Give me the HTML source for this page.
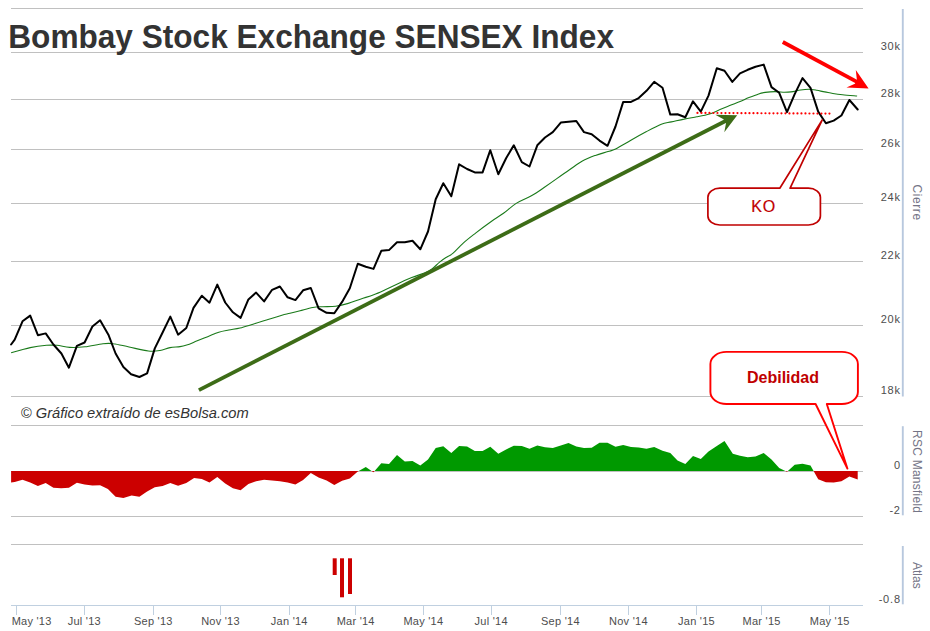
<!DOCTYPE html>
<html><head><meta charset="utf-8"><title>Bombay Stock Exchange SENSEX Index</title>
<style>
html,body{margin:0;padding:0;background:#fff;}
body{width:930px;height:631px;overflow:hidden;font-family:"Liberation Sans",sans-serif;}
svg{display:block;font-family:"Liberation Sans",sans-serif;}
.lab{font-size:11px;fill:#4d4d4d;}
.xl{letter-spacing:0.25px;}
.yl{letter-spacing:0.8px;}
.ttl{font-size:12px;fill:#747486;}
</style></head>
<body>
<svg width="930" height="631" viewBox="0 0 930 631">
<rect x="0" y="0" width="930" height="631" fill="#ffffff"/>
<!-- gridlines -->
<g shape-rendering="crispEdges">
<line x1="11" x2="863" y1="8.3" y2="8.3" stroke="#c0c0c0" stroke-width="1"/>
<line x1="11" x2="863" y1="52.4" y2="52.4" stroke="#c0c0c0" stroke-width="1"/>
<line x1="11" x2="863" y1="99.3" y2="99.3" stroke="#c0c0c0" stroke-width="1"/>
<line x1="11" x2="863" y1="149.2" y2="149.2" stroke="#c0c0c0" stroke-width="1"/>
<line x1="11" x2="863" y1="203.4" y2="203.4" stroke="#c0c0c0" stroke-width="1"/>
<line x1="11" x2="863" y1="261.4" y2="261.4" stroke="#c0c0c0" stroke-width="1"/>
<line x1="11" x2="863" y1="325.3" y2="325.3" stroke="#c0c0c0" stroke-width="1"/>
<line x1="11" x2="863" y1="396.6" y2="396.6" stroke="#c0c0c0" stroke-width="1"/>
<line x1="11" x2="863" y1="425.4" y2="425.4" stroke="#c0c0c0" stroke-width="1"/>
<line x1="11" x2="863" y1="516.4" y2="516.4" stroke="#c0c0c0" stroke-width="1"/>
<line x1="11" x2="863" y1="544.5" y2="544.5" stroke="#c0c0c0" stroke-width="1"/>
<line x1="11" x2="863" y1="471.0" y2="471.0" stroke="#c0c0c0" stroke-width="1"/>
<line x1="11" x2="863" y1="605.5" y2="605.5" stroke="#c0d0e0" stroke-width="1"/>
<line x1="16" x2="16" y1="605.5" y2="615" stroke="#c0d0e0" stroke-width="1"/>
<line x1="84.3" x2="84.3" y1="605.5" y2="615" stroke="#c0d0e0" stroke-width="1"/>
<line x1="153.3" x2="153.3" y1="605.5" y2="615" stroke="#c0d0e0" stroke-width="1"/>
<line x1="220.5" x2="220.5" y1="605.5" y2="615" stroke="#c0d0e0" stroke-width="1"/>
<line x1="289.3" x2="289.3" y1="605.5" y2="615" stroke="#c0d0e0" stroke-width="1"/>
<line x1="355.7" x2="355.7" y1="605.5" y2="615" stroke="#c0d0e0" stroke-width="1"/>
<line x1="423.4" x2="423.4" y1="605.5" y2="615" stroke="#c0d0e0" stroke-width="1"/>
<line x1="491.2" x2="491.2" y1="605.5" y2="615" stroke="#c0d0e0" stroke-width="1"/>
<line x1="560.4" x2="560.4" y1="605.5" y2="615" stroke="#c0d0e0" stroke-width="1"/>
<line x1="628.4" x2="628.4" y1="605.5" y2="615" stroke="#c0d0e0" stroke-width="1"/>
<line x1="696.5" x2="696.5" y1="605.5" y2="615" stroke="#c0d0e0" stroke-width="1"/>
<line x1="761.6" x2="761.6" y1="605.5" y2="615" stroke="#c0d0e0" stroke-width="1"/>
<line x1="829.7" x2="829.7" y1="605.5" y2="615" stroke="#c0d0e0" stroke-width="1"/>
</g>
<!-- axis lines -->
<line x1="902.8" x2="902.8" y1="9" y2="396.4" stroke="#b8c8de" stroke-width="1.9"/>
<line x1="902.8" x2="902.8" y1="426.2" y2="515.3" stroke="#b8c8de" stroke-width="1.9"/>
<line x1="902.8" x2="902.8" y1="546" y2="604.3" stroke="#b8c8de" stroke-width="1.9"/>
<!-- title -->
<text transform="translate(8.3,47.8) scale(1.003,1.025)" x="0" y="0" font-size="31.5" font-weight="bold" fill="#333333" id="title">Bombay Stock Exchange SENSEX Index</text>
<text transform="translate(20.8,418.1) scale(1,1.04)" x="0" y="0" font-size="14.7" font-style="italic" fill="#333333" id="copy">© Gráfico extraído de esBolsa.com</text>
<!-- RSC area -->
<defs>
<clipPath id="above"><rect x="0" y="420" width="930" height="51.0"/></clipPath>
<clipPath id="below"><rect x="0" y="471.0" width="930" height="50"/></clipPath>
</defs>
<polygon points="11.1,471.0 11.1,482.6 14.7,482.0 22.5,479.7 30.2,482.6 37.9,485.9 45.7,483.1 53.4,487.7 61.2,488.3 68.9,487.7 76.9,482.8 84.6,484.6 92.4,485.4 100.1,485.2 107.9,489.0 115.6,496.8 123.4,498.1 131.6,495.5 139.4,496.8 147.1,491.6 154.8,487.2 162.6,485.9 170.3,483.1 178.1,485.7 186.3,483.1 194.1,477.9 201.8,479.0 209.5,482.6 217.3,476.9 225.2,483.5 232.9,488.3 240.6,490.3 248.4,483.9 256.1,481.3 264.1,479.7 272.1,480.5 279.9,481.3 287.6,482.6 295.4,484.4 303.1,480.0 310.8,473.0 318.6,477.4 326.6,480.5 334.3,484.9 342.1,480.8 349.8,478.5 357.8,471.5 365.8,467.1 373.5,472.3 381.3,463.2 389.0,464.0 397.0,455.0 404.8,461.4 412.5,460.9 420.3,465.5 428.0,459.4 435.7,448.0 443.3,446.2 451.3,453.0 459.1,445.9 467.1,446.5 474.8,451.1 482.6,451.1 490.3,446.7 498.3,453.7 506.1,449.5 513.8,445.7 521.8,445.9 529.5,448.8 537.3,445.4 545.0,447.2 552.8,448.0 560.8,445.4 568.5,443.1 576.3,446.5 584.0,448.0 591.7,447.7 599.5,442.8 607.5,442.8 615.5,446.7 623.2,444.9 631.0,447.0 638.7,447.5 646.5,448.8 654.2,447.0 662.5,450.8 670.3,452.9 677.5,460.6 685.3,464.0 693.0,456.0 700.8,459.1 708.5,451.6 716.8,445.9 724.5,441.0 732.8,453.7 740.0,455.7 747.7,457.3 755.5,456.5 763.7,452.9 771.5,459.6 779.2,468.1 787.0,471.8 794.7,464.8 802.5,463.7 810.5,465.5 818.2,479.2 825.9,482.3 833.7,482.6 841.4,481.3 849.4,476.6 857.7,479.5 857.7,471.0" fill="#009900" clip-path="url(#above)"/>
<polygon points="11.1,471.0 11.1,482.6 14.7,482.0 22.5,479.7 30.2,482.6 37.9,485.9 45.7,483.1 53.4,487.7 61.2,488.3 68.9,487.7 76.9,482.8 84.6,484.6 92.4,485.4 100.1,485.2 107.9,489.0 115.6,496.8 123.4,498.1 131.6,495.5 139.4,496.8 147.1,491.6 154.8,487.2 162.6,485.9 170.3,483.1 178.1,485.7 186.3,483.1 194.1,477.9 201.8,479.0 209.5,482.6 217.3,476.9 225.2,483.5 232.9,488.3 240.6,490.3 248.4,483.9 256.1,481.3 264.1,479.7 272.1,480.5 279.9,481.3 287.6,482.6 295.4,484.4 303.1,480.0 310.8,473.0 318.6,477.4 326.6,480.5 334.3,484.9 342.1,480.8 349.8,478.5 357.8,471.5 365.8,467.1 373.5,472.3 381.3,463.2 389.0,464.0 397.0,455.0 404.8,461.4 412.5,460.9 420.3,465.5 428.0,459.4 435.7,448.0 443.3,446.2 451.3,453.0 459.1,445.9 467.1,446.5 474.8,451.1 482.6,451.1 490.3,446.7 498.3,453.7 506.1,449.5 513.8,445.7 521.8,445.9 529.5,448.8 537.3,445.4 545.0,447.2 552.8,448.0 560.8,445.4 568.5,443.1 576.3,446.5 584.0,448.0 591.7,447.7 599.5,442.8 607.5,442.8 615.5,446.7 623.2,444.9 631.0,447.0 638.7,447.5 646.5,448.8 654.2,447.0 662.5,450.8 670.3,452.9 677.5,460.6 685.3,464.0 693.0,456.0 700.8,459.1 708.5,451.6 716.8,445.9 724.5,441.0 732.8,453.7 740.0,455.7 747.7,457.3 755.5,456.5 763.7,452.9 771.5,459.6 779.2,468.1 787.0,471.8 794.7,464.8 802.5,463.7 810.5,465.5 818.2,479.2 825.9,482.3 833.7,482.6 841.4,481.3 849.4,476.6 857.7,479.5 857.7,471.0" fill="#cc0000" clip-path="url(#below)"/>
<!-- Atlas bars -->
<rect x="332.7" y="558.3" width="4" height="16.7" fill="#cc0000"/>
<rect x="340" y="558.3" width="4" height="39" fill="#cc0000"/>
<rect x="348" y="558.3" width="4" height="35.7" fill="#cc0000"/>
<!-- moving average -->
<path d="M11.1,352.8 C14.3,351.9 24.3,348.9 30.2,347.6 C36.1,346.4 42.1,345.7 46.5,345.3 C50.9,344.9 52.9,345.0 56.8,345.3 C60.7,345.6 65.0,347.1 69.7,347.4 C74.4,347.6 79.5,347.4 85.0,346.8 C90.5,346.2 98.2,344.2 103.0,343.7 C107.8,343.2 109.2,343.1 113.5,343.7 C117.8,344.2 123.2,345.8 129.0,347.0 C134.8,348.2 143.2,350.4 148.4,351.0 C153.6,351.6 156.4,351.1 160.0,350.5 C163.6,349.9 166.7,348.2 170.0,347.6 C173.3,347.0 177.2,347.0 180.0,346.6 C182.8,346.2 183.9,345.9 186.7,345.0 C189.5,344.1 193.1,342.5 196.6,341.1 C200.1,339.7 204.0,338.2 207.7,336.7 C211.4,335.2 215.3,333.3 218.8,332.2 C222.3,331.1 225.3,330.7 228.8,330.0 C232.3,329.3 236.0,329.0 240.0,328.0 C244.0,327.0 248.6,325.5 253.0,324.2 C257.4,322.9 261.7,321.5 266.5,320.0 C271.3,318.5 278.0,316.4 281.9,315.3 C285.8,314.2 287.0,314.1 290.0,313.3 C293.0,312.6 296.3,311.8 300.1,310.8 C303.9,309.8 309.0,308.2 312.8,307.5 C316.6,306.8 319.2,306.9 323.0,306.7 C326.8,306.5 331.4,306.8 335.6,306.2 C339.8,305.6 344.1,304.6 348.3,303.4 C352.5,302.2 356.8,300.3 361.0,298.9 C365.2,297.5 369.5,296.4 373.7,294.8 C377.9,293.2 382.1,291.2 386.3,289.3 C390.5,287.4 394.8,285.1 399.0,283.2 C403.2,281.2 407.5,279.3 411.7,277.6 C415.9,275.9 421.0,274.4 424.4,273.0 C427.8,271.6 429.5,270.8 432.0,269.0 C434.5,267.2 437.3,264.0 439.6,262.1 C441.9,260.2 443.8,258.9 446.0,257.5 C448.2,256.1 450.0,255.8 452.8,253.4 C455.6,251.0 459.2,246.7 463.0,243.3 C466.8,239.9 471.0,236.7 475.6,233.1 C480.2,229.5 486.2,225.0 490.9,221.7 C495.5,218.4 499.3,216.4 503.5,213.3 C507.7,210.2 511.6,206.3 516.2,203.4 C520.9,200.5 526.8,198.5 531.4,195.8 C536.0,193.2 539.9,190.4 544.1,187.5 C548.3,184.6 552.6,181.6 556.8,178.6 C561.0,175.6 565.2,172.6 569.5,169.7 C573.8,166.8 578.1,163.4 582.4,161.0 C586.7,158.6 591.1,157.0 595.4,155.4 C599.7,153.8 604.6,152.7 608.0,151.6 C611.4,150.5 611.8,150.9 615.6,149.0 C619.4,147.1 625.8,143.1 630.9,140.2 C636.0,137.3 641.0,134.5 646.1,131.8 C651.2,129.1 657.1,125.9 661.3,124.2 C665.5,122.5 667.6,122.8 671.4,121.9 C675.2,121.1 679.9,119.9 684.1,119.1 C688.3,118.2 692.6,117.6 696.8,116.8 C701.0,116.0 705.6,115.2 709.5,114.0 C713.4,112.8 716.6,111.0 720.0,109.6 C723.4,108.2 726.5,106.9 729.7,105.6 C732.9,104.3 736.2,103.1 739.4,101.8 C742.6,100.5 745.8,98.9 749.0,97.6 C752.2,96.3 756.0,94.8 758.7,93.9 C761.4,93.0 762.5,92.8 765.2,92.4 C767.9,92.0 771.6,91.6 774.8,91.6 C778.0,91.6 781.8,92.2 784.5,92.3 C787.2,92.3 788.3,92.3 791.0,91.9 C793.7,91.5 797.6,90.5 800.6,90.0 C803.6,89.5 806.0,89.2 808.7,89.2 C811.4,89.2 814.1,89.8 816.8,90.3 C819.5,90.8 822.1,91.4 824.8,91.9 C827.5,92.4 829.9,93.0 832.9,93.5 C835.9,94.0 838.6,94.4 842.6,94.8 C846.6,95.2 854.7,95.8 857.1,96.0" fill="none" stroke="#1a7a1a" stroke-width="1.1" stroke-linejoin="round"/>
<!-- price -->
<polyline points="11.1,344.5 14.7,339.6 22.5,321.3 30.2,315.6 37.9,335.2 45.7,333.4 53.4,344.5 61.4,353.5 68.9,367.7 76.9,345.8 84.6,342.5 92.4,326.5 100.1,320.3 108.4,334.7 115.6,353.5 123.4,367.0 131.1,374.2 139.4,377.0 147.1,373.4 154.8,348.4 162.6,332.5 170.3,316.6 178.1,334.7 186.3,328.0 193.5,307.9 201.8,295.7 209.5,302.7 217.3,284.6 225.2,302.5 232.9,312.3 240.6,317.9 248.4,299.4 256.1,292.6 264.1,301.4 272.1,289.8 279.9,286.5 287.6,297.3 295.4,300.1 303.1,290.3 310.8,288.0 318.6,308.4 326.6,312.8 334.3,313.3 342.1,301.9 349.8,288.3 357.8,263.7 365.8,266.8 373.5,268.9 381.3,250.8 389.0,250.1 397.0,242.3 404.8,242.3 412.5,240.8 420.3,249.3 428.0,231.5 435.7,199.2 443.3,183.2 451.3,196.3 459.1,164.3 467.1,169.0 474.8,172.4 482.6,172.4 490.3,150.2 498.3,174.2 506.1,158.2 513.8,145.3 521.8,162.1 529.5,166.5 537.3,145.3 545.0,137.5 552.8,132.1 560.8,122.6 568.5,121.8 576.3,121.0 584.0,132.1 591.7,134.2 599.5,140.6 607.5,145.8 615.5,126.5 623.2,101.9 631.0,101.9 638.7,98.1 646.5,90.8 654.2,81.8 662.5,87.8 670.3,114.6 677.5,114.2 685.3,117.3 693.0,101.3 700.8,111.6 708.5,95.6 716.8,68.3 724.5,70.8 732.3,81.9 740.0,73.4 747.7,69.8 755.5,66.7 763.7,64.6 771.5,87.1 779.2,92.8 787.0,112.1 794.7,94.1 802.5,78.1 810.5,87.9 818.2,111.6 825.9,123.2 833.7,120.6 841.4,115.5 849.4,100.0 857.7,109.5" fill="none" stroke="#000000" stroke-width="2" stroke-linejoin="round" stroke-linecap="round"/>
<!-- green trend arrow -->
<line x1="198.9" y1="390.1" x2="727" y2="120.2" stroke="#3d6c17" stroke-width="3.8"/>
<polygon points="737.2,115.2 715.3,114.8 723.5,119.3 726,123.2 724.3,132.3" fill="#3d6c17"/>
<!-- red dotted line -->
<line x1="697.45" y1="112.9" x2="829.6" y2="113.6" stroke="#ff0000" stroke-width="2.2" stroke-dasharray="0.01,3.99" stroke-linecap="round"/>
<!-- red arrow -->
<line x1="782.8" y1="42.0" x2="857" y2="81.9" stroke="#ff0000" stroke-width="3.9"/>
<polygon points="868.6,88.5 855.8,70.0 856.9,79.9 854.9,83.7 846.5,87.5" fill="#ff0000"/>
<!-- KO callout -->
<path d="M779.8,188.2 L719.9,188.2 A12,9 0 0 0 707.9,197.2 L707.9,216.0 A12,9 0 0 0 719.9,225.0 L808.4,225.0 A12,9 0 0 0 820.4,216.0 L820.4,197.2 A12,9 0 0 0 808.4,188.2 L790.1,188.2 L822.1,120.1 Z" fill="#ffffff" stroke="#c00000" stroke-width="1.7" stroke-linejoin="round"/>
<text x="751.2" y="211.5" font-size="16" fill="#c00000" stroke="#c00000" stroke-width="0.2" letter-spacing="0.8">KO</text>
<!-- Debilidad callout -->
<path d="M815.6,404.0 L726.4,404.0 A16,12 0 0 1 710.4,392.0 L710.4,363.9 A16,12 0 0 1 726.4,351.9 L841.9,351.9 A16,12 0 0 1 857.9,363.9 L857.9,392.0 A16,12 0 0 1 841.9,404.0 L826.8,404.0 L847.4,468.6 Z" fill="#ffffff" stroke="#ff0000" stroke-width="1.9" stroke-linejoin="round"/>
<text x="783" y="383" text-anchor="middle" font-size="16" font-weight="bold" fill="#c00000">Debilidad</text>
<!-- y labels -->
<text x="900.8" y="50.2" text-anchor="end" class="lab yl">30k</text>
<text x="900.8" y="97.1" text-anchor="end" class="lab yl">28k</text>
<text x="900.8" y="147.0" text-anchor="end" class="lab yl">26k</text>
<text x="900.8" y="201.2" text-anchor="end" class="lab yl">24k</text>
<text x="900.8" y="259.2" text-anchor="end" class="lab yl">22k</text>
<text x="900.8" y="323.1" text-anchor="end" class="lab yl">20k</text>
<text x="900.8" y="394.4" text-anchor="end" class="lab yl">18k</text>
<text x="900.8" y="468.8" text-anchor="end" class="lab yl">0</text>
<text x="900.8" y="514.2" text-anchor="end" class="lab yl">-2</text>
<text x="900.8" y="603.3" text-anchor="end" class="lab yl">-0.8</text>
<!-- x labels -->
<text x="11.7" y="624.6" text-anchor="start" class="lab xl">May '13</text>
<text x="84.3" y="624.6" text-anchor="middle" class="lab xl">Jul '13</text>
<text x="153.3" y="624.6" text-anchor="middle" class="lab xl">Sep '13</text>
<text x="220.5" y="624.6" text-anchor="middle" class="lab xl">Nov '13</text>
<text x="289.3" y="624.6" text-anchor="middle" class="lab xl">Jan '14</text>
<text x="355.7" y="624.6" text-anchor="middle" class="lab xl">Mar '14</text>
<text x="423.4" y="624.6" text-anchor="middle" class="lab xl">May '14</text>
<text x="491.2" y="624.6" text-anchor="middle" class="lab xl">Jul '14</text>
<text x="560.4" y="624.6" text-anchor="middle" class="lab xl">Sep '14</text>
<text x="628.4" y="624.6" text-anchor="middle" class="lab xl">Nov '14</text>
<text x="696.5" y="624.6" text-anchor="middle" class="lab xl">Jan '15</text>
<text x="761.6" y="624.6" text-anchor="middle" class="lab xl">Mar '15</text>
<text x="829.7" y="624.6" text-anchor="middle" class="lab xl">May '15</text>
<!-- axis titles -->
<text class="ttl" text-anchor="middle" transform="translate(912.5,202.6) rotate(90)" style="letter-spacing:0.6px">Cierre</text>
<text class="ttl" text-anchor="middle" transform="translate(912.7,471.6) rotate(90)" style="letter-spacing:0.25px">RSC Mansfield</text>
<text class="ttl" text-anchor="middle" transform="translate(912.5,575.3) rotate(90)">Atlas</text>
</svg>
</body></html>
